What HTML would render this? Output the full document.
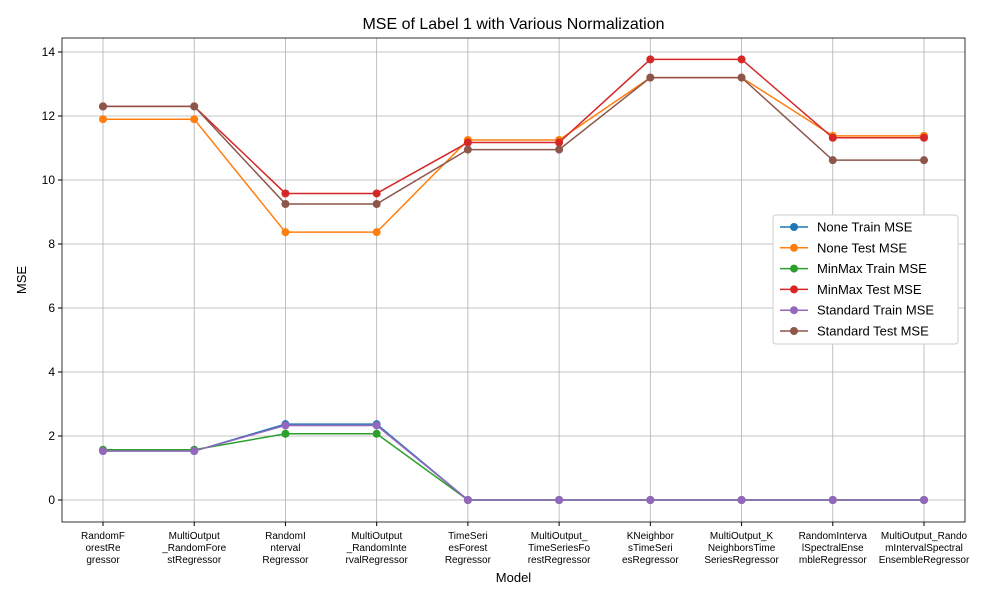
<!DOCTYPE html>
<html><head><meta charset="utf-8"><style>
body{margin:0;background:#fff;font-family:"Liberation Sans","DejaVu Sans",sans-serif}
</style></head><body>
<svg id="c" width="1000" height="600" xmlns="http://www.w3.org/2000/svg"></svg>
<script>
const categories=[["RandomF","orestRe","gressor"],["MultiOutput","_RandomFore","stRegressor"],["RandomI","nterval","Regressor"],["MultiOutput","_RandomInte","rvalRegressor"],["TimeSeri","esForest","Regressor"],["MultiOutput_","TimeSeriesFo","restRegressor"],["KNeighbor","sTimeSeri","esRegressor"],["MultiOutput_K","NeighborsTime","SeriesRegressor"],["RandomInterva","lSpectralEnse","mbleRegressor"],["MultiOutput_Rando","mIntervalSpectral","EnsembleRegressor"]];
const seriesNames=["None Train MSE","None Test MSE","MinMax Train MSE","MinMax Test MSE","Standard Train MSE","Standard Test MSE"];
const colors=["#1f77b4","#ff7f0e","#2ca02c","#d62728","#9467bd","#8c564b"];
const noneTrain=[1.53,1.53,2.37,2.37,0,0,0,0,0,0];
const noneTest=[11.9,11.9,8.37,8.37,11.25,11.25,13.2,13.2,11.38,11.38];
const minmaxTrain=[1.57,1.57,2.07,2.07,0,0,0,0,0,0];
const minmaxTest=[12.3,12.3,9.58,9.58,11.17,11.17,13.77,13.77,11.32,11.32];
const standardTrain=[1.53,1.53,2.33,2.33,0,0,0,0,0,0];
const standardTest=[12.3,12.3,9.25,9.25,10.95,10.95,13.2,13.2,10.62,10.62];
const yTicks=[0,2,4,6,8,10,12,14];
const series=[noneTrain,noneTest,minmaxTrain,minmaxTest,standardTrain,standardTest];
const L=62,R=965,T=38,B=522;
const x=i=>103+i*(924-103)/(categories.length-1);
const y=v=>500-v*32;
const s=document.getElementById('c');const NS="http://www.w3.org/2000/svg";
function el(t,a,txt){const e=document.createElementNS(NS,t);for(const k in a)e.setAttribute(k,a[k]);if(txt!==undefined)e.textContent=txt;s.appendChild(e);return e;}
categories.forEach((c,i)=>{const g=el('line',{x1:x(i),x2:x(i),y1:T,y2:B,stroke:'#b0b0b0','stroke-width':0.8});

const tk=el('line',{x1:x(i),x2:x(i),y1:B,y2:B+4,stroke:'#000'});
c.forEach((ln,j)=>{const t=el('text',{x:x(i),y:B+17+j*12,'font-size':10,'text-anchor':'middle'},ln);
});});
yTicks.forEach(v=>{const g=el('line',{x1:L,x2:R,y1:y(v),y2:y(v),stroke:'#b0b0b0','stroke-width':0.8});

el('line',{x1:L-4,x2:L,y1:y(v),y2:y(v),stroke:'#000'});
const t=el('text',{x:L-7,y:y(v)+4,'font-size':12,'text-anchor':'end'},v);
});
series.forEach((d,k)=>{const p=el('polyline',{points:d.map((v,i)=>x(i)+','+y(v)).join(' '),fill:'none',stroke:colors[k],'stroke-width':1.5});

d.forEach((v,i)=>{const m=el('circle',{cx:x(i),cy:y(v),r:4,fill:colors[k]});
});});
const fr=el('rect',{x:L,y:T,width:R-L,height:B-T,fill:'none',stroke:'#000','stroke-width':0.8});

const ti=el('text',{x:(L+R)/2,y:29,'font-size':16,'text-anchor':'middle'},'MSE of Label 1 with Various Normalization');

const xt=el('text',{x:(L+R)/2,y:582,'font-size':13,'text-anchor':'middle'},'Model');

const yt=el('text',{x:26,y:280,'font-size':13,'text-anchor':'middle',transform:'rotate(-90 26 280)'},'MSE');

const lg=el('rect',{x:773,y:215,width:185,height:129,fill:'#fff',stroke:'#ccc',rx:3});

seriesNames.forEach((n,k)=>{const yy=227+k*20.8;
el('line',{x1:780,x2:808,y1:yy,y2:yy,stroke:colors[k],'stroke-width':1.5});
el('circle',{cx:794,cy:yy,r:4,fill:colors[k]});
const t=el('text',{x:817,y:yy+4.5,'font-size':13},n);
});
</script>
</body></html>
